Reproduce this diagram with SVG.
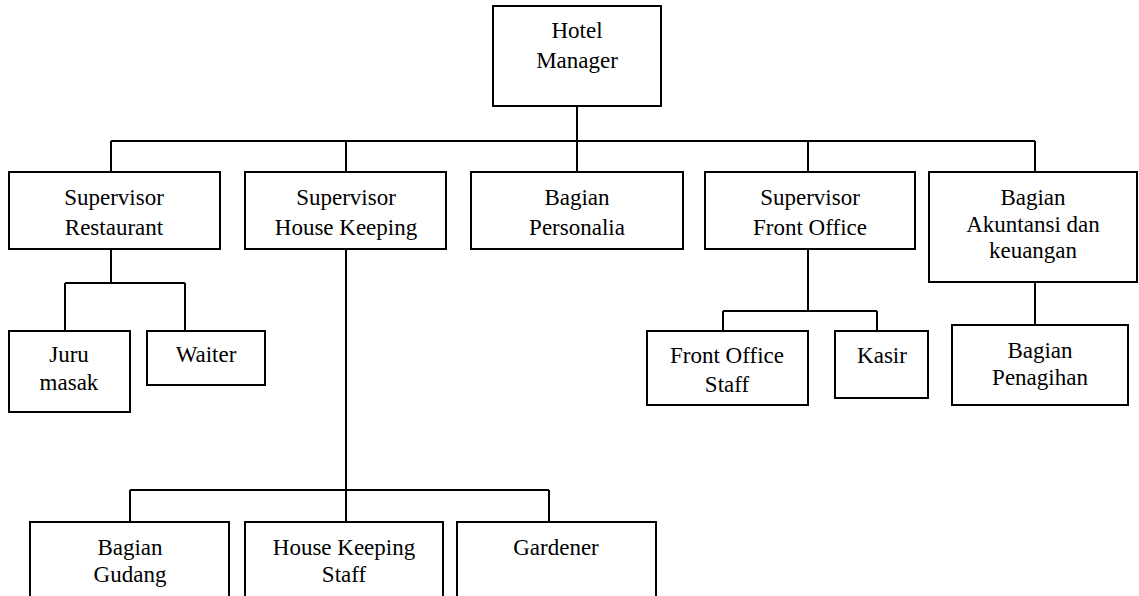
<svg xmlns="http://www.w3.org/2000/svg" width="1139" height="596" viewBox="0 0 1139 596">
<style>
.box{fill:#fff;stroke:#000;stroke-width:2}
.ln{fill:none;stroke:#000;stroke-width:2}
.t{font-family:'Liberation Serif','DejaVu Serif',serif;font-size:23px;fill:#000;text-anchor:middle}
</style>
<rect width="1139" height="596" fill="#fff"/>
<g id="connectors">
<path class="ln" d="M577 106V172M111 141H1035M111 141V172M346 141V172M808 141V172M1035 141V172"/>
<path class="ln" d="M111 249V283M65 283H185M65 283V331M185 283V331"/>
<path class="ln" d="M346 249V522M130 490H549M130 490V522M549 490V522"/>
<path class="ln" d="M808 249V311M723 311H877M723 311V331M877 311V331"/>
<path class="ln" d="M1035 282V325"/>
</g>
<g id="hotel-manager" class="t"><rect class="box" x="493" y="6" width="168" height="100"/><text x="577" y="38">Hotel</text><text x="577" y="68">Manager</text></g>
<g id="sup-restaurant" class="t"><rect class="box" x="9" y="172" width="211" height="77"/><text x="114" y="205">Supervisor</text><text x="114" y="235">Restaurant</text></g>
<g id="sup-housekeeping" class="t"><rect class="box" x="245" y="172" width="201" height="77"/><text x="346" y="205">Supervisor</text><text x="346" y="235">House Keeping</text></g>
<g id="bagian-personalia" class="t"><rect class="box" x="471" y="172" width="212" height="77"/><text x="577" y="205">Bagian</text><text x="577" y="235">Personalia</text></g>
<g id="sup-frontoffice" class="t"><rect class="box" x="705" y="172" width="210" height="77"/><text x="810" y="205">Supervisor</text><text x="810" y="235">Front Office</text></g>
<g id="bagian-akuntansi" class="t"><rect class="box" x="929" y="172" width="208" height="110"/><text x="1033" y="205">Bagian</text><text x="1033" y="232">Akuntansi dan</text><text x="1033" y="258">keuangan</text></g>
<g id="juru-masak" class="t"><rect class="box" x="9" y="331" width="121" height="81"/><text x="69" y="362">Juru</text><text x="69" y="390">masak</text></g>
<g id="waiter" class="t"><rect class="box" x="147" y="331" width="118" height="54"/><text x="206" y="362">Waiter</text></g>
<g id="front-office-staff" class="t"><rect class="box" x="647" y="331" width="161" height="74"/><text x="727" y="363">Front Office</text><text x="727" y="392">Staff</text></g>
<g id="kasir" class="t"><rect class="box" x="835" y="331" width="93" height="67"/><text x="882" y="363">Kasir</text></g>
<g id="bagian-penagihan" class="t"><rect class="box" x="952" y="325" width="176" height="80"/><text x="1040" y="358">Bagian</text><text x="1040" y="385">Penagihan</text></g>
<g id="bagian-gudang" class="t"><rect class="box" x="30" y="522" width="199" height="90"/><text x="130" y="555">Bagian</text><text x="130" y="582">Gudang</text></g>
<g id="housekeeping-staff" class="t"><rect class="box" x="245" y="522" width="198" height="90"/><text x="344" y="555">House Keeping</text><text x="344" y="582">Staff</text></g>
<g id="gardener" class="t"><rect class="box" x="457" y="522" width="199" height="90"/><text x="556" y="555">Gardener</text></g>
</svg>
